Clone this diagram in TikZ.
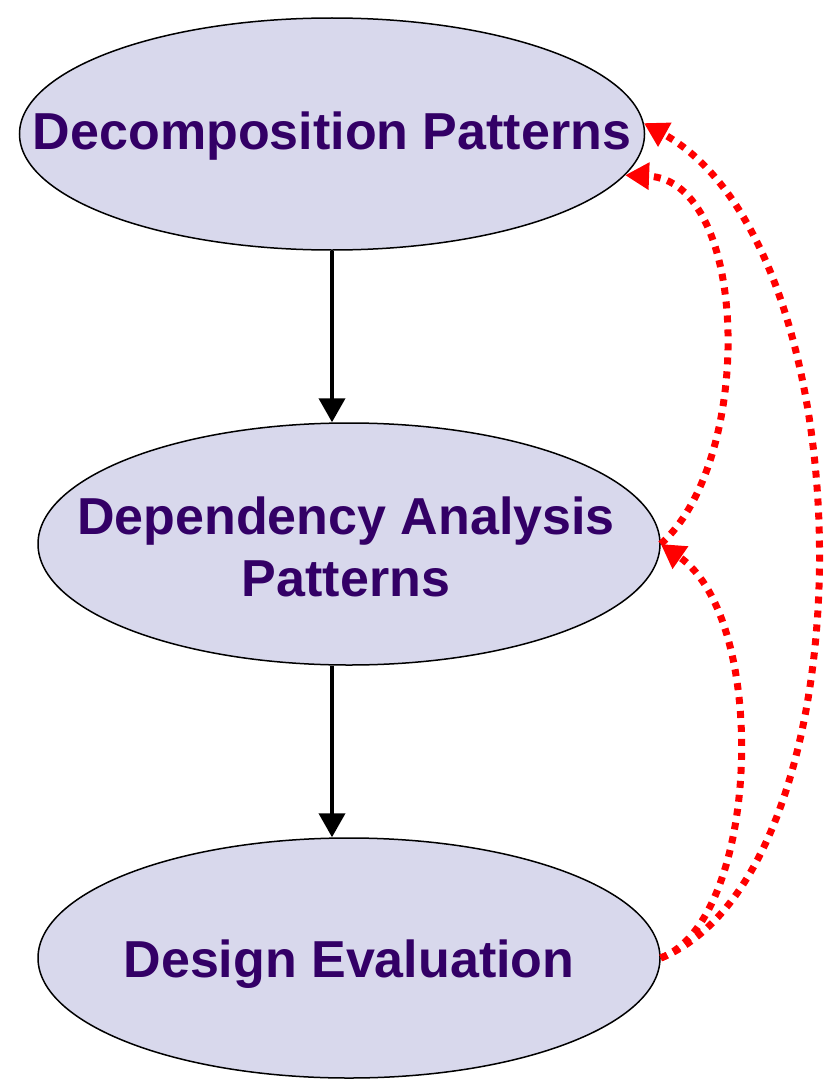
\documentclass[tikz,border=0pt]{standalone}
\usepackage{fontspec}
\setmainfont{Liberation Sans}
\usetikzlibrary{shapes.geometric,arrows.meta}
\definecolor{stagefill}{HTML}{D8D8EC}
\definecolor{stagetext}{HTML}{330066}
\tikzset{
  stage/.style={ellipse, draw=black, line width=1.5pt, fill=stagefill,
    inner sep=0pt},
  stagelabel/.style={text=stagetext, align=center,
    font=\fontsize{52}{62}\selectfont\bfseries},
  flow/.style={line width=4pt, -{Triangle[length=24pt,width=26pt]}},
  feedback/.style={draw=red, line width=7pt, dash pattern=on 7pt off 7pt,
    -{Triangle[length=24pt,width=26pt]}},
}
\begin{document}
\begin{tikzpicture}[x=1pt,y=-1pt]
  \useasboundingbox (0,0) rectangle (828,1081);
  % the three stages
  \node[stage, minimum width=625pt, minimum height=232pt] (top) at (332,134) {};
  \node[stage, minimum width=622pt, minimum height=242pt] (mid) at (349,544) {};
  \node[stage, minimum width=622pt, minimum height=240pt] (bot) at (349,958) {};
  \node[stagelabel] (topt) at ([yshift=-2pt]top.center) {Decomposition Patterns};
  \node[stagelabel] (midt) at ([xshift=-3pt,yshift=-3pt]mid.center) {Dependency Analysis\\Patterns};
  \node[stagelabel] (bott) at ([yshift=-6pt]bot.center) {Design Evaluation};
  % forward flow
  \draw[flow] (top.south) -- (top.south |- mid.north);
  \draw[flow] (top.south |- mid.south) -- (top.south |- bot.north);
  % feedback loops
  \draw[feedback] (bot.east) .. controls (872,872) and (872,250) .. (top.2);
  \draw[feedback] (bot.east) .. controls (760,920) and (770,620) .. (mid.east);
  \draw[feedback] (mid.east) .. controls (755,460) and (750,180) .. (top.-8);
\end{tikzpicture}
\end{document}
